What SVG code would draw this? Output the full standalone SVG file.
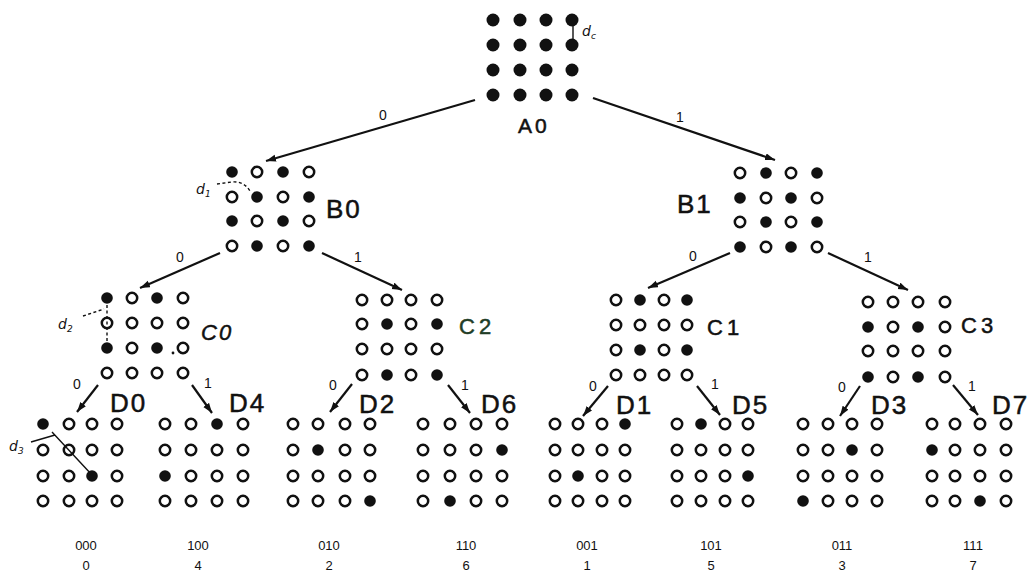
<svg xmlns="http://www.w3.org/2000/svg" xmlns:xlink="http://www.w3.org/1999/xlink" width="1032" height="575" viewBox="0 0 1032 575">
  <style>
    .edge{stroke:#111;stroke-width:2.2;fill:none}
    .note{stroke:#111;stroke-width:1.4;fill:none}
    .dash{stroke:#111;stroke-width:1.4;fill:none;stroke-dasharray:3 2.5}
    .lbl{font-family:"Liberation Sans",Arial,sans-serif;fill:#111}
    .node{font-size:26px;letter-spacing:2px;stroke:#111;stroke-width:0.5}
    .mid{font-size:22px;letter-spacing:4px;stroke:#111;stroke-width:0.5}
    .bit{font-size:14px;text-anchor:middle}
    .code{font-size:13px;text-anchor:middle}
    .dist{font-family:"DejaVu Sans",sans-serif;font-style:italic;fill:#111;font-size:14px}
  </style>
  <defs>
    <circle id="fa" r="6.5" fill="#111"/>
    <circle id="ff" r="5.8" fill="#111"/>
    <circle id="fo" r="5.2" fill="#fff" stroke="#111" stroke-width="2.5"/>
    <marker id="arr" markerUnits="userSpaceOnUse" markerWidth="12" markerHeight="8" refX="10" refY="3.5" orient="auto">
      <path d="M0,0 L10,3.5 L0,7 z" fill="#111"/>
    </marker>
  </defs>
  <rect width="1032" height="575" fill="#fff"/>

  <!-- connectors -->
  <g id="connectors">
    <line class="edge" x1="475" y1="100" x2="266" y2="161" marker-end="url(#arr)"/>
    <line class="edge" x1="593" y1="98" x2="775" y2="160" marker-end="url(#arr)"/>
    <line class="edge" x1="220" y1="253" x2="140" y2="288" marker-end="url(#arr)"/>
    <line class="edge" x1="322" y1="253" x2="402" y2="290" marker-end="url(#arr)"/>
    <line class="edge" x1="730" y1="253" x2="648" y2="288" marker-end="url(#arr)"/>
    <line class="edge" x1="828" y1="253" x2="908" y2="290" marker-end="url(#arr)"/>
    <line class="edge" x1="98" y1="385" x2="77" y2="412" marker-end="url(#arr)"/>
    <line class="edge" x1="192" y1="385" x2="212" y2="413" marker-end="url(#arr)"/>
    <line class="edge" x1="352" y1="384" x2="330" y2="412" marker-end="url(#arr)"/>
    <line class="edge" x1="448" y1="385" x2="470" y2="413" marker-end="url(#arr)"/>
    <line class="edge" x1="608" y1="386" x2="583" y2="416" marker-end="url(#arr)"/>
    <line class="edge" x1="697" y1="386" x2="720" y2="415" marker-end="url(#arr)"/>
    <line class="edge" x1="860" y1="386" x2="840" y2="416" marker-end="url(#arr)"/>
    <line class="edge" x1="953" y1="385" x2="978" y2="415" marker-end="url(#arr)"/>
    <g class="lbl bit">
      <text x="383" y="120">0</text>
      <text x="680" y="122">1</text>
      <text x="180" y="262">0</text>
      <text x="358" y="262">1</text>
      <text x="693" y="261">0</text>
      <text x="868" y="262">1</text>
      <text x="77" y="389">0</text>
      <text x="208" y="388">1</text>
      <text x="333" y="390">0</text>
      <text x="465" y="390">1</text>
      <text x="593" y="391">0</text>
      <text x="715" y="389">1</text>
      <text x="842" y="392">0</text>
      <text x="972" y="391">1</text>
    </g>
  </g>

  <!-- A0: full 4x4 constellation -->
  <g id="A0">
    <use href="#fa" x="493" y="20"/><use href="#fa" x="520" y="20"/><use href="#fa" x="546" y="20"/><use href="#fa" x="572" y="20"/>
    <use href="#fa" x="493" y="45"/><use href="#fa" x="520" y="45"/><use href="#fa" x="546" y="45"/><use href="#fa" x="572" y="45"/>
    <use href="#fa" x="493" y="70"/><use href="#fa" x="520" y="70"/><use href="#fa" x="546" y="70"/><use href="#fa" x="572" y="70"/>
    <use href="#fa" x="493" y="95"/><use href="#fa" x="520" y="95"/><use href="#fa" x="546" y="95"/><use href="#fa" x="572" y="95"/>
    <path class="note" d="M573,26 L573,39"/>
    <text class="dist" x="582" y="36">d<tspan font-size="9" dy="3">c</tspan></text>
    <text class="lbl" x="518" y="133" font-size="21" letter-spacing="3" stroke="#111" stroke-width="0.5">A0</text>
  </g>

  <!-- B0 -->
  <g id="B0">
    <use href="#ff" x="232" y="172"/><use href="#fo" x="257" y="172"/><use href="#ff" x="283" y="172"/><use href="#fo" x="309" y="172"/>
    <use href="#fo" x="232" y="197"/><use href="#ff" x="257" y="197"/><use href="#fo" x="283" y="197"/><use href="#ff" x="309" y="197"/>
    <use href="#ff" x="232" y="221"/><use href="#fo" x="257" y="221"/><use href="#ff" x="283" y="221"/><use href="#fo" x="309" y="221"/>
    <use href="#fo" x="232" y="246"/><use href="#ff" x="257" y="246"/><use href="#fo" x="283" y="246"/><use href="#ff" x="309" y="246"/>
    <path class="dash" d="M217,184 L232,182 Q244,181 250,191"/>
    <text class="dist" x="196" y="194">d<tspan font-size="9" dy="3">1</tspan></text>
    <text class="lbl node" x="326" y="218">B0</text>
  </g>

  <!-- B1 -->
  <g id="B1">
    <use href="#fo" x="740" y="173"/><use href="#ff" x="766" y="173"/><use href="#fo" x="791" y="173"/><use href="#ff" x="817" y="173"/>
    <use href="#ff" x="740" y="198"/><use href="#fo" x="766" y="198"/><use href="#ff" x="791" y="198"/><use href="#fo" x="817" y="198"/>
    <use href="#fo" x="740" y="222"/><use href="#ff" x="766" y="222"/><use href="#fo" x="791" y="222"/><use href="#ff" x="817" y="222"/>
    <use href="#ff" x="740" y="247"/><use href="#fo" x="766" y="247"/><use href="#ff" x="791" y="247"/><use href="#fo" x="817" y="247"/>
    <text class="lbl node" x="677" y="213">B1</text>
  </g>

  <!-- C0 -->
  <g id="C0">
    <use href="#ff" x="107" y="298"/><use href="#fo" x="132" y="298"/><use href="#ff" x="157" y="298"/><use href="#fo" x="183" y="298"/>
    <use href="#fo" x="107" y="323"/><use href="#fo" x="132" y="323"/><use href="#fo" x="157" y="323"/><use href="#fo" x="183" y="323"/>
    <use href="#ff" x="107" y="348"/><use href="#fo" x="132" y="348"/><use href="#ff" x="157" y="348"/><use href="#fo" x="183" y="348"/>
    <use href="#fo" x="107" y="373"/><use href="#fo" x="132" y="373"/><use href="#fo" x="157" y="373"/><use href="#fo" x="183" y="373"/>
    <circle cx="173" cy="353" r="1.4" fill="#111"/>
    <path class="dash" d="M83,316 L104,309"/>
    <path class="dash" d="M107,305 L107,341"/>
    <text class="dist" x="58" y="329">d<tspan font-size="9" dy="3">2</tspan></text>
    <text class="lbl" x="201" y="340" font-size="22" font-style="italic" letter-spacing="2" stroke="#111" stroke-width="0.5">C0</text>
  </g>

  <!-- C2 -->
  <g id="C2">
    <use href="#fo" x="362" y="300"/><use href="#fo" x="387" y="300"/><use href="#fo" x="411" y="300"/><use href="#fo" x="437" y="300"/>
    <use href="#fo" x="362" y="324"/><use href="#ff" x="387" y="324"/><use href="#fo" x="411" y="324"/><use href="#ff" x="437" y="324"/>
    <use href="#fo" x="362" y="349"/><use href="#fo" x="387" y="349"/><use href="#fo" x="411" y="349"/><use href="#fo" x="437" y="349"/>
    <use href="#fo" x="362" y="375"/><use href="#ff" x="387" y="375"/><use href="#fo" x="411" y="375"/><use href="#ff" x="437" y="375"/>
    <text class="lbl mid" x="459" y="334" style="fill:#1f3d26;stroke:#1f3d26">C2</text>
  </g>

  <!-- C1 -->
  <g id="C1">
    <use href="#fo" x="616" y="300"/><use href="#ff" x="640" y="300"/><use href="#fo" x="664" y="300"/><use href="#ff" x="687" y="300"/>
    <use href="#fo" x="616" y="325"/><use href="#fo" x="640" y="325"/><use href="#fo" x="664" y="325"/><use href="#fo" x="687" y="325"/>
    <use href="#fo" x="616" y="350"/><use href="#ff" x="640" y="350"/><use href="#fo" x="664" y="350"/><use href="#ff" x="687" y="350"/>
    <use href="#fo" x="616" y="375"/><use href="#fo" x="640" y="375"/><use href="#fo" x="664" y="375"/><use href="#fo" x="687" y="375"/>
    <text class="lbl mid" x="707" y="335">C1</text>
  </g>

  <!-- C3 -->
  <g id="C3">
    <use href="#fo" x="868" y="302"/><use href="#fo" x="893" y="302"/><use href="#fo" x="918" y="302"/><use href="#fo" x="945" y="302"/>
    <use href="#ff" x="868" y="327"/><use href="#fo" x="893" y="327"/><use href="#ff" x="918" y="327"/><use href="#fo" x="945" y="327"/>
    <use href="#fo" x="868" y="351"/><use href="#fo" x="893" y="351"/><use href="#fo" x="918" y="351"/><use href="#fo" x="945" y="351"/>
    <use href="#ff" x="868" y="377"/><use href="#fo" x="893" y="377"/><use href="#ff" x="918" y="377"/><use href="#fo" x="945" y="377"/>
    <text class="lbl mid" x="961" y="333">C3</text>
  </g>

  <!-- D0 -->
  <g id="D0">
    <use href="#ff" x="43" y="424"/><use href="#fo" x="69" y="424"/><use href="#fo" x="92" y="424"/><use href="#fo" x="117" y="424"/>
    <use href="#fo" x="43" y="450"/><use href="#fo" x="69" y="450"/><use href="#fo" x="92" y="450"/><use href="#fo" x="117" y="450"/>
    <use href="#fo" x="43" y="476"/><use href="#fo" x="69" y="476"/><use href="#ff" x="92" y="476"/><use href="#fo" x="117" y="476"/>
    <use href="#fo" x="43" y="501"/><use href="#fo" x="69" y="501"/><use href="#fo" x="92" y="501"/><use href="#fo" x="117" y="501"/>
    <path class="note" d="M31,442 L55,435 M52,432 L92,475"/>
    <text class="dist" x="9" y="451">d<tspan font-size="9" dy="3">3</tspan></text>
    <text class="lbl node" x="110" y="412">D0</text>
    <text class="lbl code" x="86" y="550">000</text>
    <text class="lbl code" x="86" y="570">0</text>
  </g>

  <!-- D4 -->
  <g id="D4">
    <use href="#fo" x="165" y="424"/><use href="#fo" x="191" y="424"/><use href="#ff" x="217" y="424"/><use href="#fo" x="243" y="424"/>
    <use href="#fo" x="165" y="450"/><use href="#fo" x="191" y="450"/><use href="#fo" x="217" y="450"/><use href="#fo" x="243" y="450"/>
    <use href="#ff" x="165" y="476"/><use href="#fo" x="191" y="476"/><use href="#fo" x="217" y="476"/><use href="#fo" x="243" y="476"/>
    <use href="#fo" x="165" y="501"/><use href="#fo" x="191" y="501"/><use href="#fo" x="217" y="501"/><use href="#fo" x="243" y="501"/>
    <text class="lbl node" x="229" y="412">D4</text>
    <text class="lbl code" x="198" y="550">100</text>
    <text class="lbl code" x="198" y="570">4</text>
  </g>

  <!-- D2 -->
  <g id="D2">
    <use href="#fo" x="293" y="424"/><use href="#fo" x="318" y="424"/><use href="#fo" x="345" y="424"/><use href="#fo" x="370" y="424"/>
    <use href="#fo" x="293" y="450"/><use href="#ff" x="318" y="450"/><use href="#fo" x="345" y="450"/><use href="#fo" x="370" y="450"/>
    <use href="#fo" x="293" y="476"/><use href="#fo" x="318" y="476"/><use href="#fo" x="345" y="476"/><use href="#fo" x="370" y="476"/>
    <use href="#fo" x="293" y="501"/><use href="#fo" x="318" y="501"/><use href="#fo" x="345" y="501"/><use href="#ff" x="370" y="501"/>
    <text class="lbl node" x="359" y="413">D2</text>
    <text class="lbl code" x="329" y="550">010</text>
    <text class="lbl code" x="329" y="570">2</text>
  </g>

  <!-- D6 -->
  <g id="D6">
    <use href="#fo" x="423" y="424"/><use href="#fo" x="450" y="424"/><use href="#fo" x="476" y="424"/><use href="#fo" x="502" y="424"/>
    <use href="#fo" x="423" y="450"/><use href="#fo" x="450" y="450"/><use href="#fo" x="476" y="450"/><use href="#ff" x="502" y="450"/>
    <use href="#fo" x="423" y="476"/><use href="#fo" x="450" y="476"/><use href="#fo" x="476" y="476"/><use href="#fo" x="502" y="476"/>
    <use href="#fo" x="423" y="501"/><use href="#ff" x="450" y="501"/><use href="#fo" x="476" y="501"/><use href="#fo" x="502" y="501"/>
    <text class="lbl node" x="481" y="413">D6</text>
    <text class="lbl code" x="466" y="550">110</text>
    <text class="lbl code" x="466" y="570">6</text>
  </g>

  <!-- D1 -->
  <g id="D1">
    <use href="#fo" x="555" y="424"/><use href="#fo" x="578" y="424"/><use href="#fo" x="602" y="424"/><use href="#ff" x="625" y="424"/>
    <use href="#fo" x="555" y="450"/><use href="#fo" x="578" y="450"/><use href="#fo" x="602" y="450"/><use href="#fo" x="625" y="450"/>
    <use href="#fo" x="555" y="476"/><use href="#ff" x="578" y="476"/><use href="#fo" x="602" y="476"/><use href="#fo" x="625" y="476"/>
    <use href="#fo" x="555" y="501"/><use href="#fo" x="578" y="501"/><use href="#fo" x="602" y="501"/><use href="#fo" x="625" y="501"/>
    <text class="lbl node" x="616" y="414">D1</text>
    <text class="lbl code" x="587" y="550">001</text>
    <text class="lbl code" x="587" y="570">1</text>
  </g>

  <!-- D5 -->
  <g id="D5">
    <use href="#fo" x="677" y="424"/><use href="#ff" x="701" y="424"/><use href="#fo" x="725" y="424"/><use href="#fo" x="748" y="424"/>
    <use href="#fo" x="677" y="450"/><use href="#fo" x="701" y="450"/><use href="#fo" x="725" y="450"/><use href="#fo" x="748" y="450"/>
    <use href="#fo" x="677" y="476"/><use href="#fo" x="701" y="476"/><use href="#fo" x="725" y="476"/><use href="#ff" x="748" y="476"/>
    <use href="#fo" x="677" y="501"/><use href="#fo" x="701" y="501"/><use href="#fo" x="725" y="501"/><use href="#fo" x="748" y="501"/>
    <text class="lbl node" x="732" y="414">D5</text>
    <text class="lbl code" x="711" y="550">101</text>
    <text class="lbl code" x="711" y="570">5</text>
  </g>

  <!-- D3 -->
  <g id="D3">
    <use href="#fo" x="803" y="424"/><use href="#fo" x="828" y="424"/><use href="#fo" x="852" y="424"/><use href="#fo" x="877" y="424"/>
    <use href="#fo" x="803" y="450"/><use href="#fo" x="828" y="450"/><use href="#ff" x="852" y="450"/><use href="#fo" x="877" y="450"/>
    <use href="#fo" x="803" y="476"/><use href="#fo" x="828" y="476"/><use href="#fo" x="852" y="476"/><use href="#fo" x="877" y="476"/>
    <use href="#ff" x="803" y="501"/><use href="#fo" x="828" y="501"/><use href="#fo" x="852" y="501"/><use href="#fo" x="877" y="501"/>
    <text class="lbl node" x="871" y="414">D3</text>
    <text class="lbl code" x="842" y="550">011</text>
    <text class="lbl code" x="842" y="570">3</text>
  </g>

  <!-- D7 -->
  <g id="D7">
    <use href="#fo" x="932" y="424"/><use href="#fo" x="955" y="424"/><use href="#fo" x="980" y="424"/><use href="#fo" x="1006" y="424"/>
    <use href="#ff" x="932" y="450"/><use href="#fo" x="955" y="450"/><use href="#fo" x="980" y="450"/><use href="#fo" x="1006" y="450"/>
    <use href="#fo" x="932" y="476"/><use href="#fo" x="955" y="476"/><use href="#fo" x="980" y="476"/><use href="#fo" x="1006" y="476"/>
    <use href="#fo" x="932" y="501"/><use href="#fo" x="955" y="501"/><use href="#ff" x="980" y="501"/><use href="#fo" x="1006" y="501"/>
    <text class="lbl node" x="992" y="414">D7</text>
    <text class="lbl code" x="973" y="550">111</text>
    <text class="lbl code" x="973" y="570">7</text>
  </g>
</svg>
